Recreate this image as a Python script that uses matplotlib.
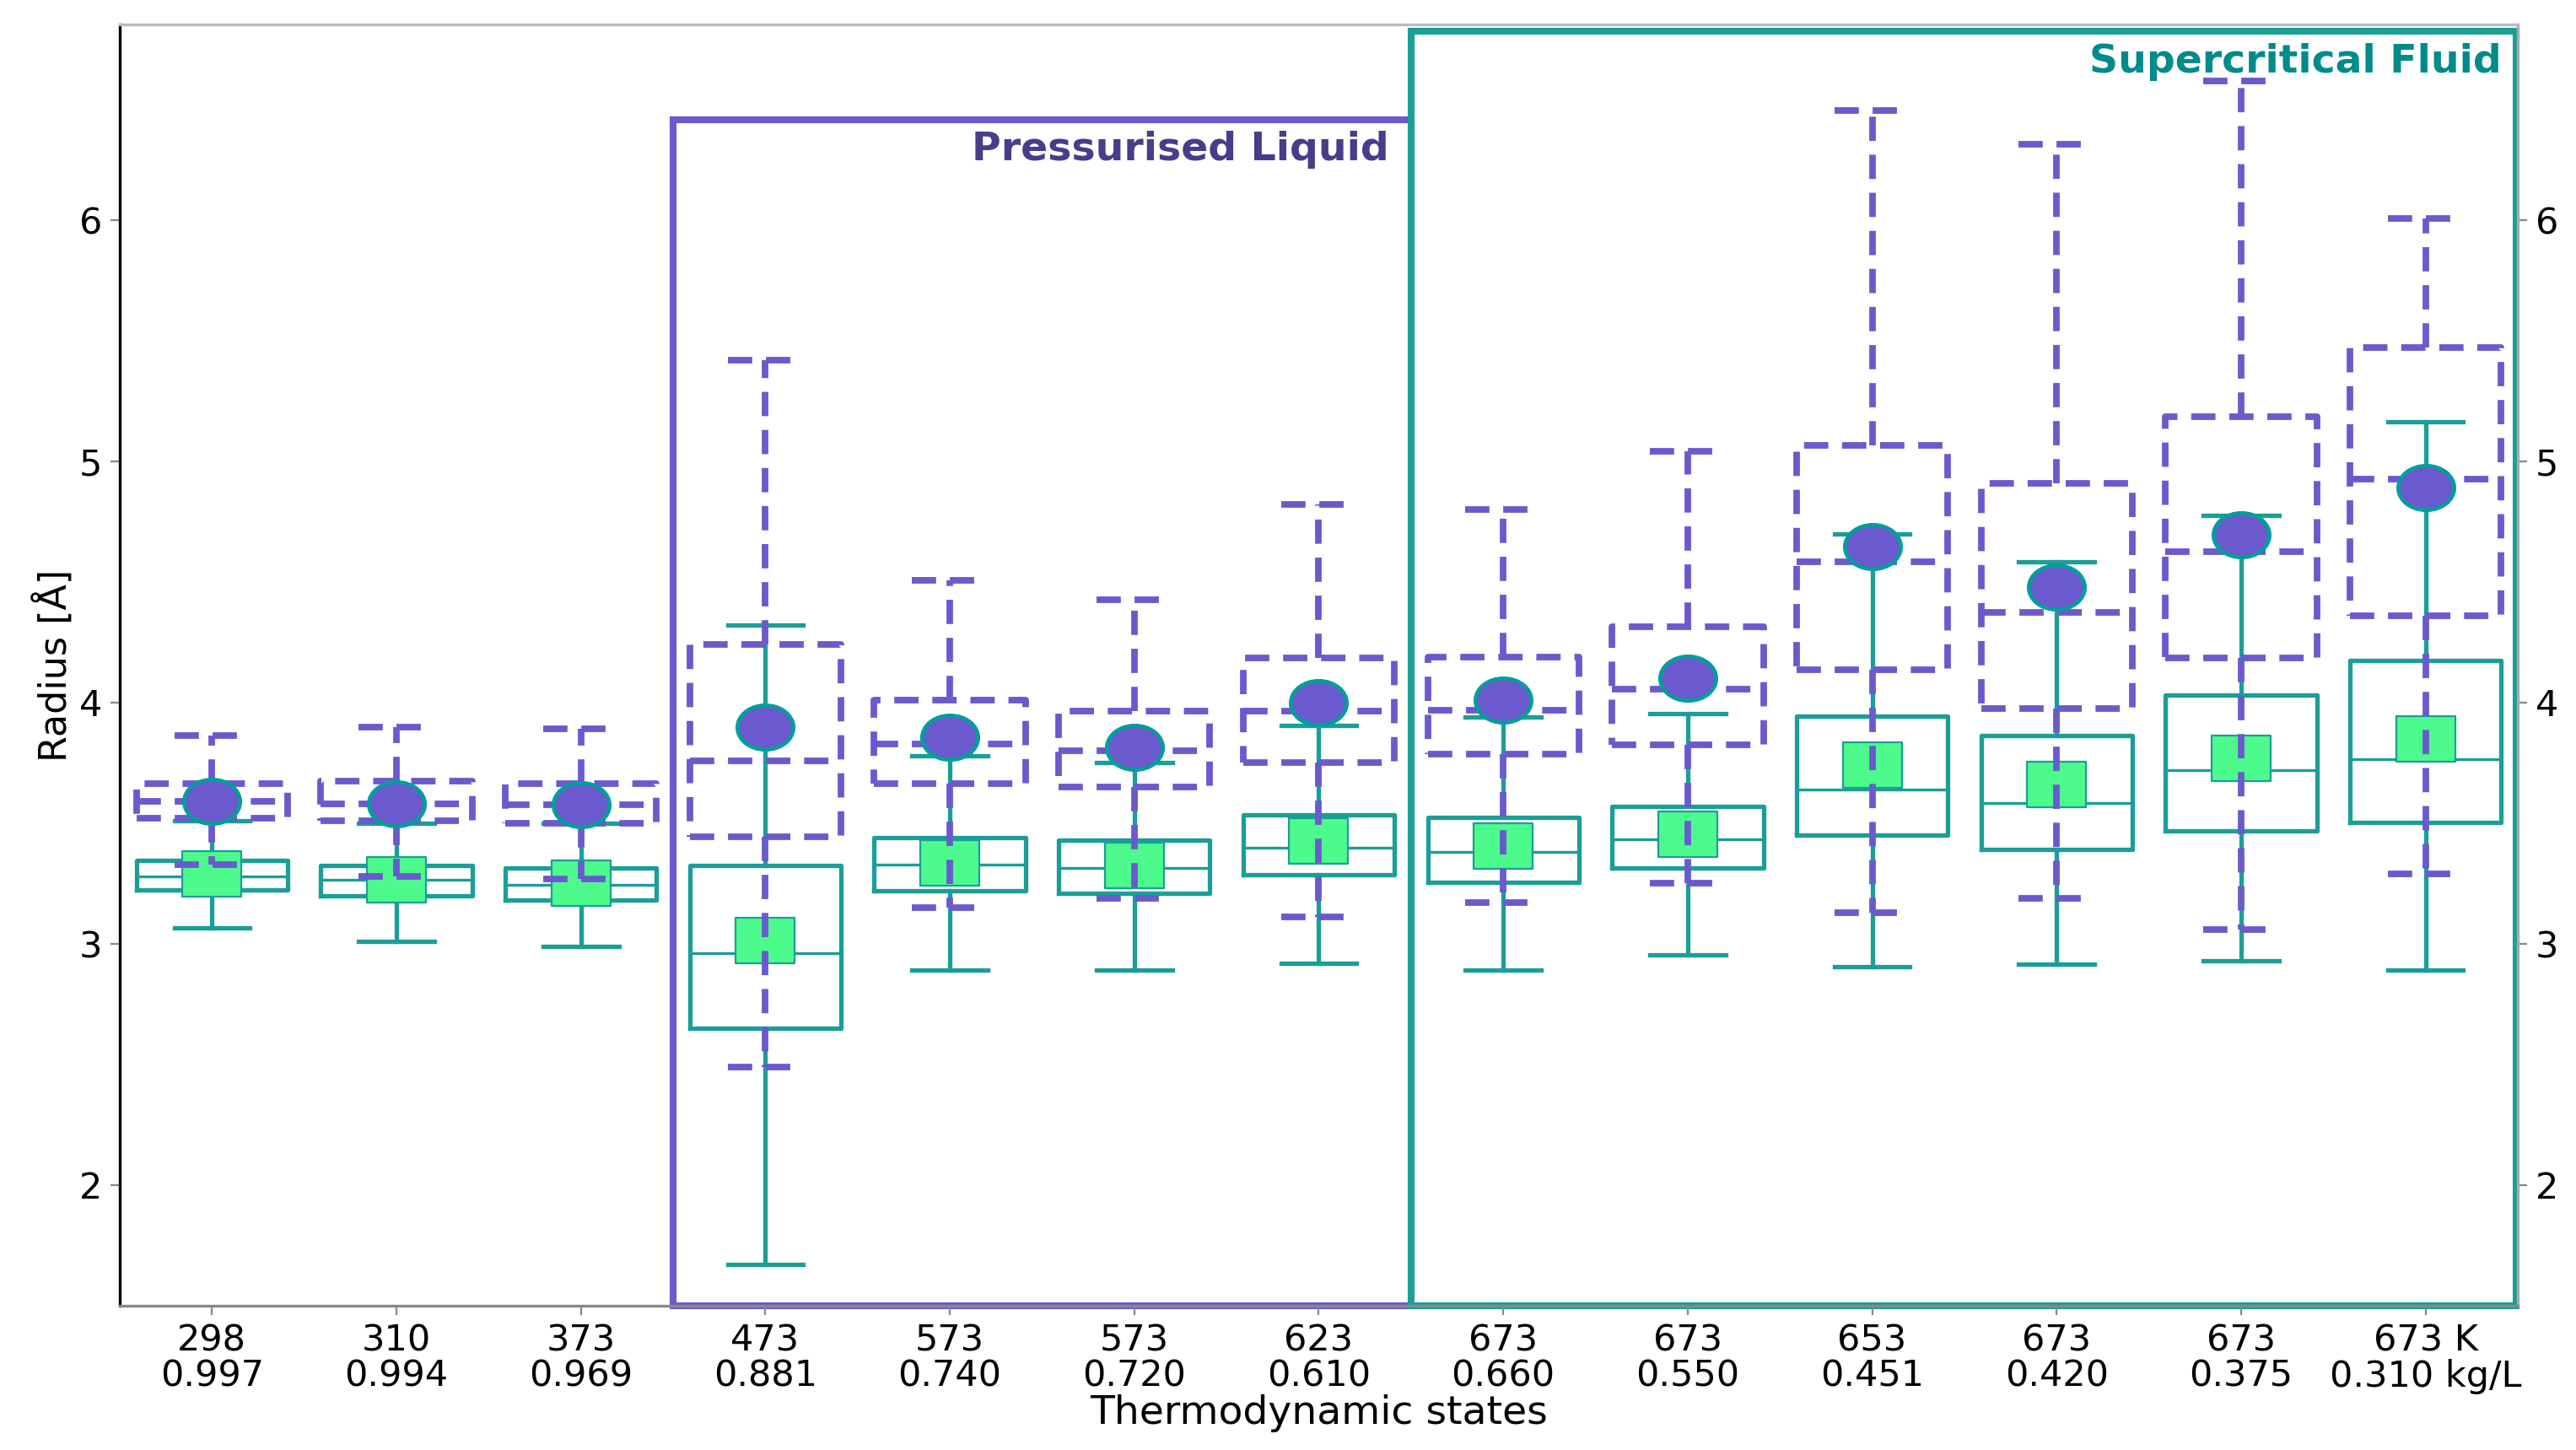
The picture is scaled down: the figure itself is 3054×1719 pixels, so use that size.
import numpy as np
import matplotlib
matplotlib.use("Agg")
import matplotlib.pyplot as plt
from matplotlib.patches import Rectangle
from matplotlib.path import Path

# thermodynamic states (K, kg/L)
temps = ['298', '310', '373', '473', '573', '573', '623', '673', '673', '653', '673', '673', '673 K']
dens = ['0.997', '0.994', '0.969', '0.881', '0.740', '0.720', '0.610', '0.660', '0.550', '0.451',
        '0.420', '0.375', '0.310 kg/L']

# dashed purple boxes: whislo, q1, med, q3, whishi, mean
p_lo = [3.33, 3.28, 3.27, 2.49, 3.15, 3.19, 3.11, 3.17, 3.25, 3.13, 3.19, 3.06, 3.29]
p_q1 = [3.52, 3.51, 3.50, 3.445, 3.665, 3.65, 3.75, 3.785, 3.825, 4.135, 3.975, 4.185, 4.36]
p_med = [3.59, 3.58, 3.575, 3.76, 3.83, 3.80, 3.965, 3.97, 4.055, 4.585, 4.375, 4.625, 4.925]
p_q3 = [3.665, 3.675, 3.665, 4.24, 4.01, 3.965, 4.185, 4.19, 4.315, 5.065, 4.91, 5.185, 5.47]
p_hi = [3.865, 3.90, 3.89, 5.42, 4.505, 4.425, 4.82, 4.80, 5.04, 6.455, 6.315, 6.575, 6.005]
p_mean = [3.59, 3.58, 3.575, 3.90, 3.855, 3.815, 4.00, 4.01, 4.10, 4.645, 4.48, 4.695, 4.89]

# solid teal boxes
t_lo = [3.065, 3.01, 2.99, 1.67, 2.89, 2.89, 2.92, 2.89, 2.955, 2.905, 2.915, 2.93, 2.89]
t_q1 = [3.225, 3.20, 3.18, 2.65, 3.22, 3.21, 3.285, 3.255, 3.315, 3.45, 3.39, 3.47, 3.505]
t_med = [3.28, 3.265, 3.245, 2.96, 3.33, 3.315, 3.40, 3.38, 3.435, 3.64, 3.585, 3.72, 3.765]
t_q3 = [3.345, 3.325, 3.315, 3.325, 3.44, 3.43, 3.535, 3.525, 3.57, 3.945, 3.865, 4.03, 4.175]
t_hi = [3.51, 3.50, 3.50, 4.32, 3.78, 3.75, 3.905, 3.94, 3.955, 4.70, 4.585, 4.775, 5.165]
t_mean = [3.29, 3.265, 3.25, 3.015, 3.335, 3.325, 3.425, 3.405, 3.455, 3.74, 3.66, 3.77, 3.85]

purple = '#6a5acd'
teal = '#1b9e98'
green = '#4dfa8c'


def stats(lo, q1, med, q3, hi, mean):
    return [dict(whislo=a, q1=b, med=c, q3=d, whishi=e, mean=f, fliers=[])
            for a, b, c, d, e, f in zip(lo, q1, med, q3, hi, mean)]


# slightly flattened markers, like the original
circ = Path.unit_circle()
ell = Path(circ.vertices * [1.0, 0.79], circ.codes)
rect = Path([(-1, -0.77), (1, -0.77), (1, 0.77), (-1, 0.77), (-1, -0.77)],
            [Path.MOVETO, Path.LINETO, Path.LINETO, Path.LINETO, Path.CLOSEPOLY])

fig = plt.figure(figsize=(15.27, 8.595), dpi=200)
ax = fig.add_axes([0.0465, 0.0995, 0.9309, 0.8835])

pos = np.arange(len(temps))
w = 0.82

ax.bxp(stats(t_lo, t_q1, t_med, t_q3, t_hi, t_mean), positions=pos, widths=w,
       showmeans=True, showfliers=False,
       boxprops=dict(color=teal, lw=1.9),
       whiskerprops=dict(color=teal, lw=1.9),
       capprops=dict(color=teal, lw=1.9),
       medianprops=dict(color=teal, lw=1.2),
       meanprops=dict(marker=rect, markerfacecolor=green, markeredgecolor=teal,
                      markeredgewidth=0.8, markersize=25),
       zorder=2)

dash = (0, (3.7, 2.1))
ax.bxp(stats(p_lo, p_q1, p_med, p_q3, p_hi, p_mean), positions=pos, widths=w,
       showmeans=True, showfliers=False,
       boxprops=dict(color=purple, lw=2.8, linestyle=dash),
       whiskerprops=dict(color=purple, lw=2.8, linestyle=dash),
       capprops=dict(color=purple, lw=2.8, linestyle=dash),
       medianprops=dict(color=purple, lw=2.8, linestyle=dash),
       meanprops=dict(marker=ell, markerfacecolor=purple, markeredgecolor='#00a09a',
                      markeredgewidth=1.6, markersize=24),
       zorder=3)

# regions
ax.add_patch(Rectangle((2.5, 1.5), 4.0, 6.416 - 1.5, fill=False, ec=purple, lw=2.9,
                       clip_on=False, zorder=1))
ax.add_patch(Rectangle((6.5, 1.5), 5.99, 6.783 - 1.5, fill=False, ec=teal, lw=2.9,
                       clip_on=False, zorder=1))
ax.text(6.38, 6.29, 'Pressurised Liquid', ha='right', va='center', fontsize=17,
        fontweight='bold', color='#483d8b')
ax.text(12.41, 6.655, 'Supercritical Fluid', ha='right', va='center', fontsize=17,
        fontweight='bold', color='#008b8b')

ax.set_xlim(-0.5, 12.5)
ax.set_ylim(1.5, 6.81)
ax.set_xticks(pos)
ax.set_xticklabels([t + '\n' + d for t, d in zip(temps, dens)], linespacing=1.0)
ax.set_yticks([2, 3, 4, 5, 6])
ax.tick_params(axis='both', labelsize=15.5, length=4, color='#888888')
ax.tick_params(axis='y', right=True, labelright=True)
ax.set_xlabel('Thermodynamic states', fontsize=17, labelpad=0)
ax.set_ylabel('Radius [Å]', fontsize=16, labelpad=2)

ax.spines['left'].set_color('black')
ax.spines['bottom'].set_color('#888888')
ax.spines['right'].set_color('#aaaaaa')
ax.spines['top'].set_color('#bbbbbb')
for s in ax.spines.values():
    s.set_linewidth(1.2)

fig.savefig('out.png', dpi=200)
